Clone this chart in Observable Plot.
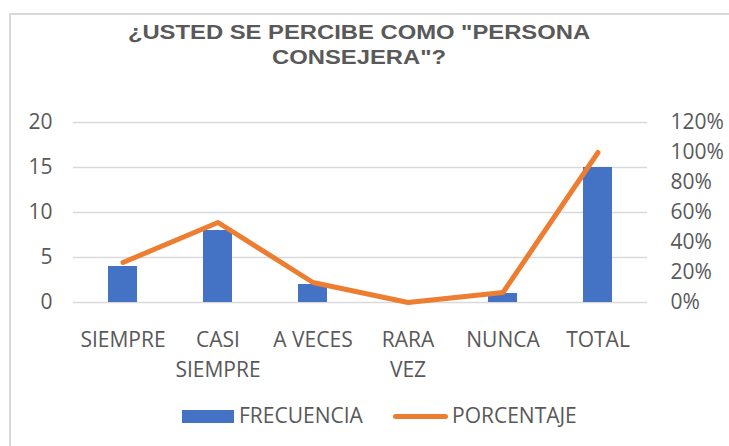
<!DOCTYPE html>
<html>
<head>
<meta charset="utf-8">
<script src="https://cdn.jsdelivr.net/npm/d3@7"></script>
<script src="https://cdn.jsdelivr.net/npm/@observablehq/plot@0.6"></script>
<style>
  body { margin:0; width:729px; height:446px; position:relative; overflow:hidden; background:#fff; }
  #frame { position:absolute; left:9px; top:13px; width:760px; height:480px; border:2px solid #d9d9d9; box-sizing:border-box; }
  #title { position:absolute; left:0; top:20px; width:718px; text-align:center; font:bold 20px "Liberation Sans", Arial, sans-serif; color:#595959; line-height:25px; transform:scaleX(1.19); transform-origin:359px 0; }
  #chart { position:absolute; left:0; top:100px; }
  .lg { position:absolute; font:21px "Open Sans", sans-serif; color:#595959; line-height:1; }
</style>
</head>
<body>
<div id="frame"></div>
<div id="title">¿USTED SE PERCIBE COMO "PERSONA<br>CONSEJERA"?</div>
<div id="chart"></div>
<div id="legend"></div>
<script>
const categories = ["SIEMPRE", "CASI SIEMPRE", "A VECES", "RARA VEZ", "NUNCA", "TOTAL"];
const categoryLabels = ["SIEMPRE", "CASI\nSIEMPRE", "A VECES", "RARA\nVEZ", "NUNCA", "TOTAL"];
const frecuencia = [4, 8, 2, 0, 1, 15];
const porcentaje = [26.67, 53.33, 13.33, 0, 6.67, 100];
const leftTicks = [0, 5, 10, 15, 20];
const rightTicks = [0, 20, 40, 60, 80, 100, 120];
const seriesNames = ["FRECUENCIA", "PORCENTAJE"];

const blue = "#4472C4", orange = "#ED7D31", grey = "#595959", grid = "#d9d9d9";
const leftMax = 20, rightMax = 120;
const toLeft = p => p * leftMax / rightMax;

const data = categories.map((c, i) => ({cat: c, label: categoryLabels[i], f: frecuencia[i], p: porcentaje[i]}));

const chart = Plot.plot({
  width: 729,
  height: 290,
  marginTop: 22,
  marginBottom: 88,
  marginLeft: 73,
  marginRight: 82,
  style: {fontFamily: "'Open Sans', sans-serif", fontSize: "21px", color: grey, background: "transparent", overflow: "visible"},
  x: {type: "band", domain: categories, paddingInner: 0.69, paddingOuter: 0.345, align: 0.5},
  y: {domain: [0, leftMax]},
  marks: [
    Plot.ruleY(leftTicks, {stroke: grid, strokeWidth: 1.5}),
    Plot.barY(data, {x: "cat", y: "f", fill: blue}),
    Plot.lineY(data, {x: "cat", y: d => toLeft(d.p), stroke: orange, strokeWidth: 5, strokeLinecap: "round", strokeLinejoin: "round"}),
    Plot.axisX({ticks: categories, tickSize: 0, tickPadding: 24, tickFormat: c => categoryLabels[categories.indexOf(c)], lineHeight: 1.4, lineAnchor: "top", label: null, fill: grey}),
    Plot.axisY({ticks: leftTicks, anchor: "left", tickSize: 0, tickPadding: 21, label: null, fill: grey}),
    Plot.axisY({ticks: rightTicks.map(toLeft), anchor: "right", tickSize: 0, tickPadding: 23, tickFormat: v => Math.round(v * rightMax / leftMax) + "%", textAnchor: "start", label: null, fill: grey})
  ]
});
document.getElementById("chart").appendChild(chart);

const legend = document.getElementById("legend");
legend.innerHTML = `
  <div style="position:absolute;left:182px;top:410px;width:52px;height:13px;background:${blue}"></div>
  <div class="lg" style="left:239px;top:405px;">${seriesNames[0]}</div>
  <div style="position:absolute;left:393px;top:414px;width:55px;height:5px;border-radius:3px;background:${orange}"></div>
  <div class="lg" style="left:452px;top:405px;">${seriesNames[1]}</div>
`;
</script>
</body>
</html>
